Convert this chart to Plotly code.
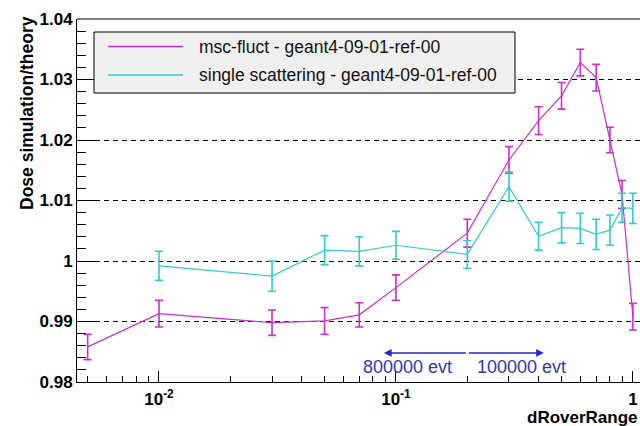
import math
import plotly.graph_objects as go

# ---- data ----
x_msc = [0.005, 0.01, 0.03, 0.05, 0.07, 0.1, 0.2, 0.3, 0.4, 0.5, 0.6, 0.7, 0.8, 0.9, 1.0]
y_msc = [0.9858, 0.9913, 0.9898, 0.9901, 0.9911, 0.9956, 1.0046, 1.0167, 1.0232, 1.0273,
         1.0328, 1.0303, 1.0200, 1.0110, 0.9908]
e_msc = [0.0021, 0.0022, 0.0021, 0.0022, 0.0020, 0.0021, 0.0023, 0.0022, 0.0023, 0.0022,
         0.0022, 0.0022, 0.0021, 0.0023, 0.0022]

x_ss = [0.01, 0.03, 0.05, 0.07, 0.1, 0.2, 0.3, 0.4, 0.5, 0.6, 0.7, 0.8, 0.9, 1.0]
y_ss = [0.9992, 0.9975, 1.0018, 1.0016, 1.0026, 1.0011, 1.0123, 1.0041, 1.0055, 1.0054,
        1.0044, 1.0051, 1.0088, 1.0087]
e_ss = [0.0024, 0.0025, 0.0024, 0.0024, 0.0023, 0.0023, 0.0024, 0.0023, 0.0025, 0.0025,
        0.0025, 0.0025, 0.0024, 0.0025]

names = ["msc-fluct - geant4-09-01-ref-00", "single scattering - geant4-09-01-ref-00"]

y_tickvals = [0.98, 0.99, 1.0, 1.01, 1.02, 1.03, 1.04]
y_ticktext = ["0.98", "0.99", "1", "1.01", "1.02", "1.03", "1.04"]
y_minor = [round(0.98 + 0.002 * i, 3) for i in range(31) if i % 5 != 0]
x_tickvals = [0.01, 0.1, 1.0]
x_ticktext = ["10<sup>-2</sup>", "10<sup>-1</sup>", "1"]
x_minor = [m * d for d in (0.001, 0.01, 0.1) for m in range(2, 10) if m * d > 0.0045]

# statistics annotation
split_x = 0.2
arrow_left_x = 0.089
arrow_right_x = 0.421
arrow_y = 0.9848
label_left = ("800000 evt", 0.1124)
label_right = ("100000 evt", 0.340)
label_y = 0.98252

MAG = "#cc2fcc"
CYA = "#33cccc"
BLUE = "#2424d0"

fig = go.Figure()
fig.add_trace(go.Scatter(
    x=x_msc, y=y_msc, mode="lines", name=names[0],
    line=dict(color=MAG, width=1.2),
    error_y=dict(type="data", array=e_msc, color=MAG, thickness=1.6, width=4),
    showlegend=False))
fig.add_trace(go.Scatter(
    x=x_ss, y=y_ss, mode="lines", name=names[1],
    line=dict(color=CYA, width=1.2),
    error_y=dict(type="data", array=e_ss, color=CYA, thickness=1.6, width=4),
    showlegend=False))

FONT = "Liberation Sans, Arial, sans-serif"

fig.update_layout(
    width=640, height=426,
    margin=dict(l=77, r=0, t=19, b=44),
    paper_bgcolor="white", plot_bgcolor="white",
    font=dict(family=FONT, color="black"),
    xaxis=dict(
        type="log", range=[-2.346, 0.03], automargin=False,
        tickvals=x_tickvals, ticktext=x_ticktext,
        ticks="inside", ticklen=11, tickcolor="black", tickwidth=1,
        ticklabelstandoff=2,
        minor=dict(tickvals=x_minor, ticks="inside", ticklen=6, tickcolor="black", showgrid=False),
        showgrid=False, zeroline=False,
        showline=True, linecolor="black", linewidth=1,
        tickfont=dict(family=FONT, size=17, color="black", weight="bold"),
    ),
    yaxis=dict(
        range=[0.98, 1.04], automargin=False,
        tickvals=y_tickvals, ticktext=y_ticktext,
        ticks="inside", ticklen=18, tickcolor="black", tickwidth=1,
        minor=dict(tickvals=y_minor, ticks="inside", ticklen=9, tickcolor="black", showgrid=False),
        showgrid=True, gridcolor="black", gridwidth=1, griddash="5px,4px",
        zeroline=False,
        showline=True, linecolor="black", linewidth=1,
        tickfont=dict(family=FONT, size=17, color="black", weight="bold"),
    ),
)

shapes = []
annotations = []
# top frame line
shapes.append(dict(type="line", xref="paper", yref="paper", x0=0, x1=1, y0=1, y1=1,
                   line=dict(color="black", width=1)))

# manual legend (ROOT style box)
PW, PH, L, T = 563.0, 363.0, 77.0, 19.0
def px(xp):
    return (xp - L) / PW
def py(yp):
    return (PH + T - yp) / PH

shapes.append(dict(type="rect", xref="paper", yref="paper",
                   x0=px(94), x1=px(515), y0=py(93), y1=py(32),
                   fillcolor="#f0f0f0", line=dict(color="black", width=1), layer="above"))
for i, (nm, col) in enumerate(zip(names, [MAG, CYA])):
    yy = [46.5, 75.0][i]
    shapes.append(dict(type="line", xref="paper", yref="paper",
                       x0=px(108), x1=px(183), y0=py(yy), y1=py(yy),
                       line=dict(color=col, width=1.5), layer="above"))
    annotations.append(dict(xref="paper", yref="paper", x=px(197), y=py(yy),
                            xanchor="left", yanchor="middle", showarrow=False,
                            text=nm, font=dict(family=FONT, size=17.5, color="#111111")))

# statistics arrows
lx = math.log10
shapes.append(dict(type="line", xref="x", yref="y",
                   x0=lx(split_x), x1=lx(split_x), y0=0.9826, y1=0.9863,
                   line=dict(color=BLUE, width=1.2)))
for tgt in (arrow_left_x, arrow_right_x):
    annotations.append(dict(xref="x", yref="y", axref="x", ayref="y",
                            x=lx(tgt), y=arrow_y, ax=lx(split_x), ay=arrow_y,
                            showarrow=True, arrowhead=2, arrowsize=1.1, arrowwidth=1.4,
                            arrowcolor=BLUE, text=""))
for txt, xv in (label_left, label_right):
    annotations.append(dict(xref="x", yref="y", x=lx(xv), y=label_y,
                            xanchor="center", yanchor="middle", showarrow=False,
                            text=txt, font=dict(family=FONT, size=18, color="#3535b5")))

# axis titles
annotations.append(dict(xref="paper", yref="paper", x=1.0, y=py(417.5),
                        xanchor="right", yanchor="middle", showarrow=False,
                        text="dRoverRange",
                        font=dict(family=FONT, size=17, color="black", weight="bold")))
annotations.append(dict(xref="paper", yref="paper", x=px(27), y=py(113),
                        xanchor="center", yanchor="middle", showarrow=False,
                        textangle=-90, text="Dose simulation/theory",
                        font=dict(family=FONT, size=17.5, color="black", weight="bold")))

fig.update_layout(shapes=shapes, annotations=annotations)
fig.write_html("out.html", config={"displayModeBar": False},
               post_script="document.body.style.margin='0';document.body.style.overflow='hidden';")
